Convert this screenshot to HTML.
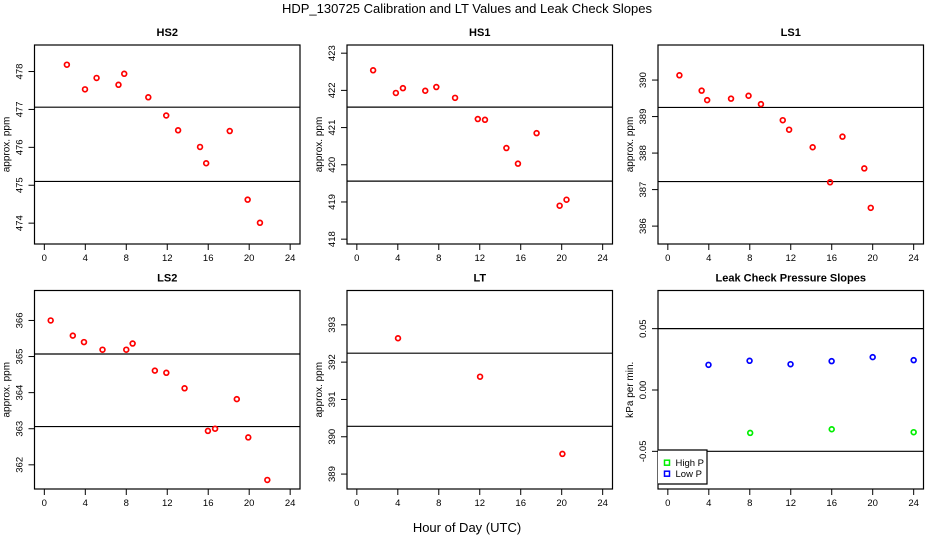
<!DOCTYPE html>
<html><head><meta charset="utf-8"><style>
body{margin:0;background:#fff}
svg{display:block;font-family:"Liberation Sans",sans-serif}
</style></head><body>
<svg id="c" width="936" height="540" viewBox="0 0 936 540">
<text x="467" y="13" text-anchor="middle" font-size="13">HDP_130725  Calibration and LT Values and Leak Check Slopes</text>
<text x="467" y="532" text-anchor="middle" font-size="13">Hour of Day (UTC)</text>
</svg>
<script>
// data arrays
const hs2X=[2.2,3.97,5.1,7.24,7.8,10.15,11.9,13.06,15.2,15.8,18.1,19.85,21.05];
const hs2Y=[478.18,477.53,477.83,477.65,477.94,477.32,476.84,476.45,476.01,475.58,476.43,474.62,474.01];
const hs1X=[1.59,3.81,4.5,6.68,7.76,9.59,11.81,12.51,14.6,15.73,17.55,19.8,20.47];
const hs1Y=[422.54,421.93,422.06,421.99,422.09,421.8,421.23,421.21,420.45,420.03,420.85,418.9,419.06];
const ls1X=[1.13,3.3,3.84,6.17,7.88,9.09,11.22,11.84,14.14,15.84,17.05,19.18,19.81];
const ls1Y=[390.13,389.71,389.45,389.49,389.57,389.34,388.9,388.64,388.16,387.2,388.45,387.58,386.5];
const ls2X=[0.62,2.78,3.87,5.68,8.0,8.62,10.79,11.91,13.69,15.97,16.67,18.79,19.91,21.77];
const ls2Y=[366.0,365.58,365.4,365.19,365.19,365.36,364.61,364.55,364.12,362.94,363.0,363.82,362.76,361.58];
const ltX=[4.02,12.03,20.07];
const ltY=[392.64,391.61,389.54];
const lowPX=[3.97,7.98,11.98,15.99,20.0,24.0];
const lowPY=[0.0205,0.0238,0.021,0.0235,0.0268,0.0243];
const highPX=[8.04,16.0,24.0];
const highPY=[-0.035,-0.032,-0.0344];
const xTicks=[0,4,8,12,16,20,24];
const hs2Ticks=[474,475,476,477,478];
const hs1Ticks=[418,419,420,421,422,423];
const ls1Ticks=[386,387,388,389,390];
const ls2Ticks=[362,363,364,365,366];
const ltTicks=[389,390,391,392,393];
const leakTicks=[-0.05,0,0.05];
const leakTickLabels=["-0.05","0.00","0.05"];
const hs2Lines=[477.06,475.1];
const hs1Lines=[421.55,419.56];
const ls1Lines=[389.25,387.22];
const ls2Lines=[365.07,363.06];
const ltLines=[392.24,390.28];
const leakLines=[0.05,-0.05];

const NS="http://www.w3.org/2000/svg";
const svg=document.getElementById('c');
function mk(tag,attrs,parent){const e=document.createElementNS(NS,tag);for(const k in attrs)e.setAttribute(k,attrs[k]);(parent||svg).appendChild(e);return e;}

const panels=[
 {name:'hs2',title:'HS2',L:34.5,T:45,B:244,ylim:[473.45,478.70],ticks:hs2Ticks,labels:null,lines:hs2Lines,ylab:'approx. ppm',series:[[hs2X,hs2Y,'#ff0000']]},
 {name:'hs1',title:'HS1',L:347,T:45,B:244,ylim:[417.87,423.22],ticks:hs1Ticks,labels:null,lines:hs1Lines,ylab:'approx. ppm',series:[[hs1X,hs1Y,'#ff0000']]},
 {name:'ls1',title:'LS1',L:658,T:45,B:244,ylim:[385.51,390.96],ticks:ls1Ticks,labels:null,lines:ls1Lines,ylab:'approx. ppm',series:[[ls1X,ls1Y,'#ff0000']]},
 {name:'ls2',title:'LS2',L:34.5,T:290.5,B:489,ylim:[361.33,366.83],ticks:ls2Ticks,labels:null,lines:ls2Lines,ylab:'approx. ppm',series:[[ls2X,ls2Y,'#ff0000']]},
 {name:'lt',title:'LT',L:347,T:290.5,B:489,ylim:[388.60,393.92],ticks:ltTicks,labels:null,lines:ltLines,ylab:'approx. ppm',series:[[ltX,ltY,'#ff0000']]},
 {name:'leak',title:'Leak Check Pressure Slopes',L:658,T:290.5,B:489,ylim:[-0.0807,0.0811],ticks:leakTicks,labels:leakTickLabels,lines:leakLines,ylab:'kPa per min.',series:[[lowPX,lowPY,'#0000ff'],[highPX,highPY,'#00ee00']]}
];
const W=265.5;
panels.forEach(p=>{
  const g=mk('g',{});
  
  
  const xs=v=>p.L+(v+0.96)/25.92*W;
  const ys=v=>p.B-(v-p.ylim[0])/(p.ylim[1]-p.ylim[0])*(p.B-p.T);
  const t=mk('text',{x:p.L+W/2,y:p.T-9,'text-anchor':'middle','font-size':11,'font-weight':'bold'},g);
  t.textContent=p.title;
  
  
  const box=mk('rect',{x:p.L,y:p.T,width:W,height:p.B-p.T,fill:'none',stroke:'#000','stroke-width':1.2},g);
  
  
  p.lines.forEach(v=>{
    const l=mk('line',{x1:p.L,x2:p.L+W,y1:ys(v),y2:ys(v),stroke:'#000','stroke-width':1.2},g);
    
    
  });
  xTicks.forEach(v=>{
    mk('line',{x1:xs(v),x2:xs(v),y1:p.B,y2:p.B+6,stroke:'#000'},g);
    const tl=mk('text',{x:xs(v),y:p.B+17,'text-anchor':'middle','font-size':9.5},g);
    tl.textContent=v;
    
    
  });
  p.ticks.forEach((v,i)=>{
    const y=ys(v);
    mk('line',{x1:p.L-6,x2:p.L,y1:y,y2:y,stroke:'#000'},g);
    const tl=mk('text',{x:0,y:0,'text-anchor':'middle','font-size':9.5,transform:`translate(${p.L-12},${y}) rotate(-90)`},g);
    tl.textContent=p.labels?p.labels[i]:v;
    
    
  });
  const yl=mk('text',{x:0,y:0,'text-anchor':'middle','font-size':10,transform:`translate(${p.L-25},${(p.T+p.B)/2}) rotate(-90)`},g);
  yl.textContent=p.ylab;
  
  
  p.series.forEach(s=>{
    s[0].forEach((xv,i)=>{
      const c=mk('circle',{cx:xs(xv),cy:ys(s[1][i]),r:2.4,fill:'none',stroke:s[2],'stroke-width':1.7},g);
      
      
    });
  });
});
const lg=mk('g',{});


mk('polyline',{points:'658,450 707,450 707,484 658,484',fill:'#fff',stroke:'#000','stroke-width':1.2},lg);
[['High P','#00ee00',462.7],['Low P','#0000ff',473.7]].forEach(e=>{
  const r=mk('rect',{x:664.5,y:e[2]-2.5,width:5,height:5,fill:'none',stroke:e[1],'stroke-width':1.5},lg);
  
  
  const t=mk('text',{x:675.5,y:e[2]+3.5,'font-size':9.5},lg);
  t.textContent=e[0];
  
  
});
</script>
</body></html>
